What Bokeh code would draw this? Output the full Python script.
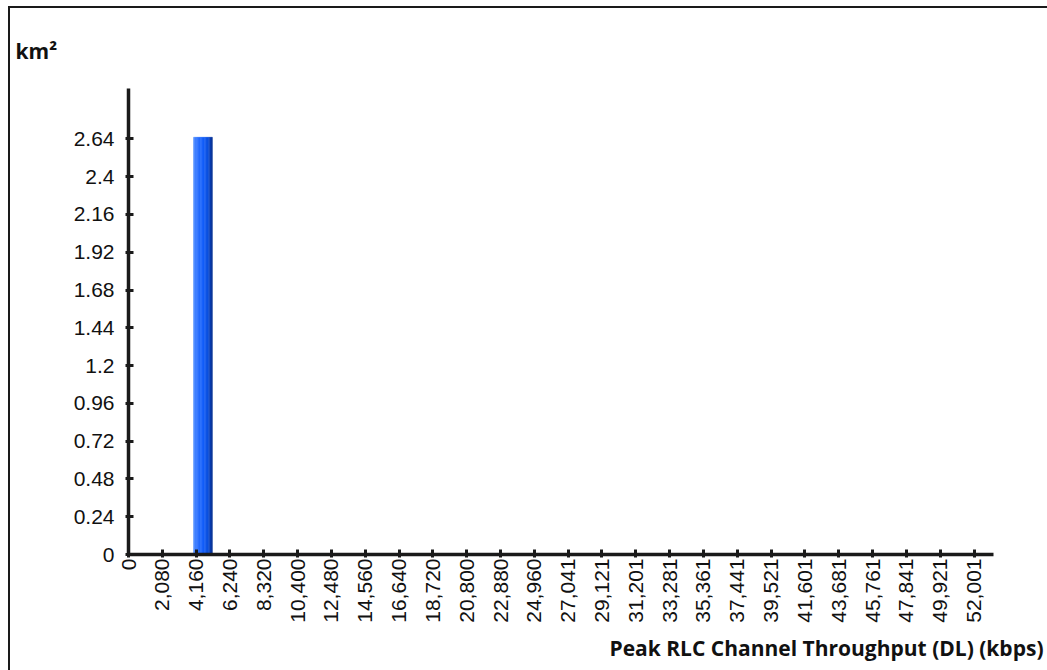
import math
from bokeh.plotting import figure
from bokeh.models import FixedTicker, NumeralTickFormatter, CustomJSTickFormatter, Title, Range1d
from bokeh.embed import file_html
from bokeh.resources import INLINE

# ---- data ----
bin_centers = [4580]
bin_widths = [1160]
area_km2 = [2.65]
x_ticks = [0, 2080, 4160, 6240, 8320, 10400, 12480, 14560, 16640, 18720, 20800,
           22880, 24960, 27041, 29121, 31201, 33281, 35361, 37441, 39521, 41601,
           43681, 45761, 47841, 49921, 52001]
y_ticks = [0, 0.24, 0.48, 0.72, 0.96, 1.2, 1.44, 1.68, 1.92, 2.16, 2.4, 2.64]
x_title = "Peak RLC Channel Throughput (DL) (kbps)"
y_title = "km²"

X_END = 53200
Y_END = 2.96

p = figure(width=1047, height=670, output_backend="svg", toolbar_location=None,
           x_range=Range1d(0, X_END), y_range=Range1d(0, Y_END),
           min_border_left=128, min_border_right=54, min_border_top=88, min_border_bottom=116)
p.grid.visible = False
p.outline_line_color = None
p.background_fill_color = None
p.border_fill_color = None
p.styles = {"box-shadow": "inset 8px 6px 0 0 #ffffff, inset 10px 8px 0 0 #1a1a1a"}

# gradient bar built from strips
stops = [(0.0, (0x5a, 0x95, 0xff)), (0.2, (0x2a, 0x70, 0xff)), (0.55, (0x12, 0x5e, 0xfa)),
         (0.8, (0x0a, 0x4c, 0xd8)), (1.0, (0x05, 0x2c, 0x8a))]

def grad(t):
    for (t0, c0), (t1, c1) in zip(stops[:-1], stops[1:]):
        if t0 <= t <= t1:
            f = (t - t0) / (t1 - t0)
            return "#%02x%02x%02x" % tuple(int(round(a + (b - a) * f)) for a, b in zip(c0, c1))
    return "#%02x%02x%02x" % stops[-1][1]

n = 14
for c, w, v in zip(bin_centers, bin_widths, area_km2):
    lefts, rights, cols = [], [], []
    for k in range(n):
        lefts.append(c - w / 2 + k * w / n)
        rights.append(c - w / 2 + (k + 1) * w / n)
        cols.append(grad((k + 0.5) / n))
    p.quad(left=lefts, right=rights, bottom=[0] * n, top=[v] * n,
           fill_color=cols, line_color=cols, line_width=0.5)

for ax in (p.xaxis[0], p.yaxis[0]):
    ax.axis_line_width = 3.5
    ax.axis_line_color = "#1a1a1a"
    ax.major_tick_line_width = 3
    ax.major_tick_line_color = "#1a1a1a"
    ax.major_tick_in = 5
    ax.major_tick_out = 3
    ax.minor_tick_line_color = None
    ax.major_label_text_font = "Liberation Sans"
    ax.major_label_text_font_size = "21px"
    ax.major_label_text_color = "#111111"

p.xaxis.ticker = FixedTicker(ticks=x_ticks)
p.xaxis.formatter = NumeralTickFormatter(format="0,0")
p.xaxis.major_label_orientation = math.pi / 2
p.xaxis.major_label_standoff = 1

p.yaxis.ticker = FixedTicker(ticks=y_ticks)
p.yaxis.formatter = CustomJSTickFormatter(code="return String(Math.round(tick*100)/100);")
p.yaxis.major_label_standoff = 11

p.add_layout(Title(text=y_title, align="left", offset=-113, standoff=47,
                   text_font="Open Sans", text_font_style="bold", text_font_size="21px",
                   text_color="#111111"), "above")
p.add_layout(Title(text=x_title, align="right", offset=-50, standoff=13,
                   text_font="Open Sans", text_font_style="bold", text_font_size="21px",
                   text_line_height=1.4, text_color="#111111"), "below")

open("out.html", "w").write(file_html(p, INLINE))
